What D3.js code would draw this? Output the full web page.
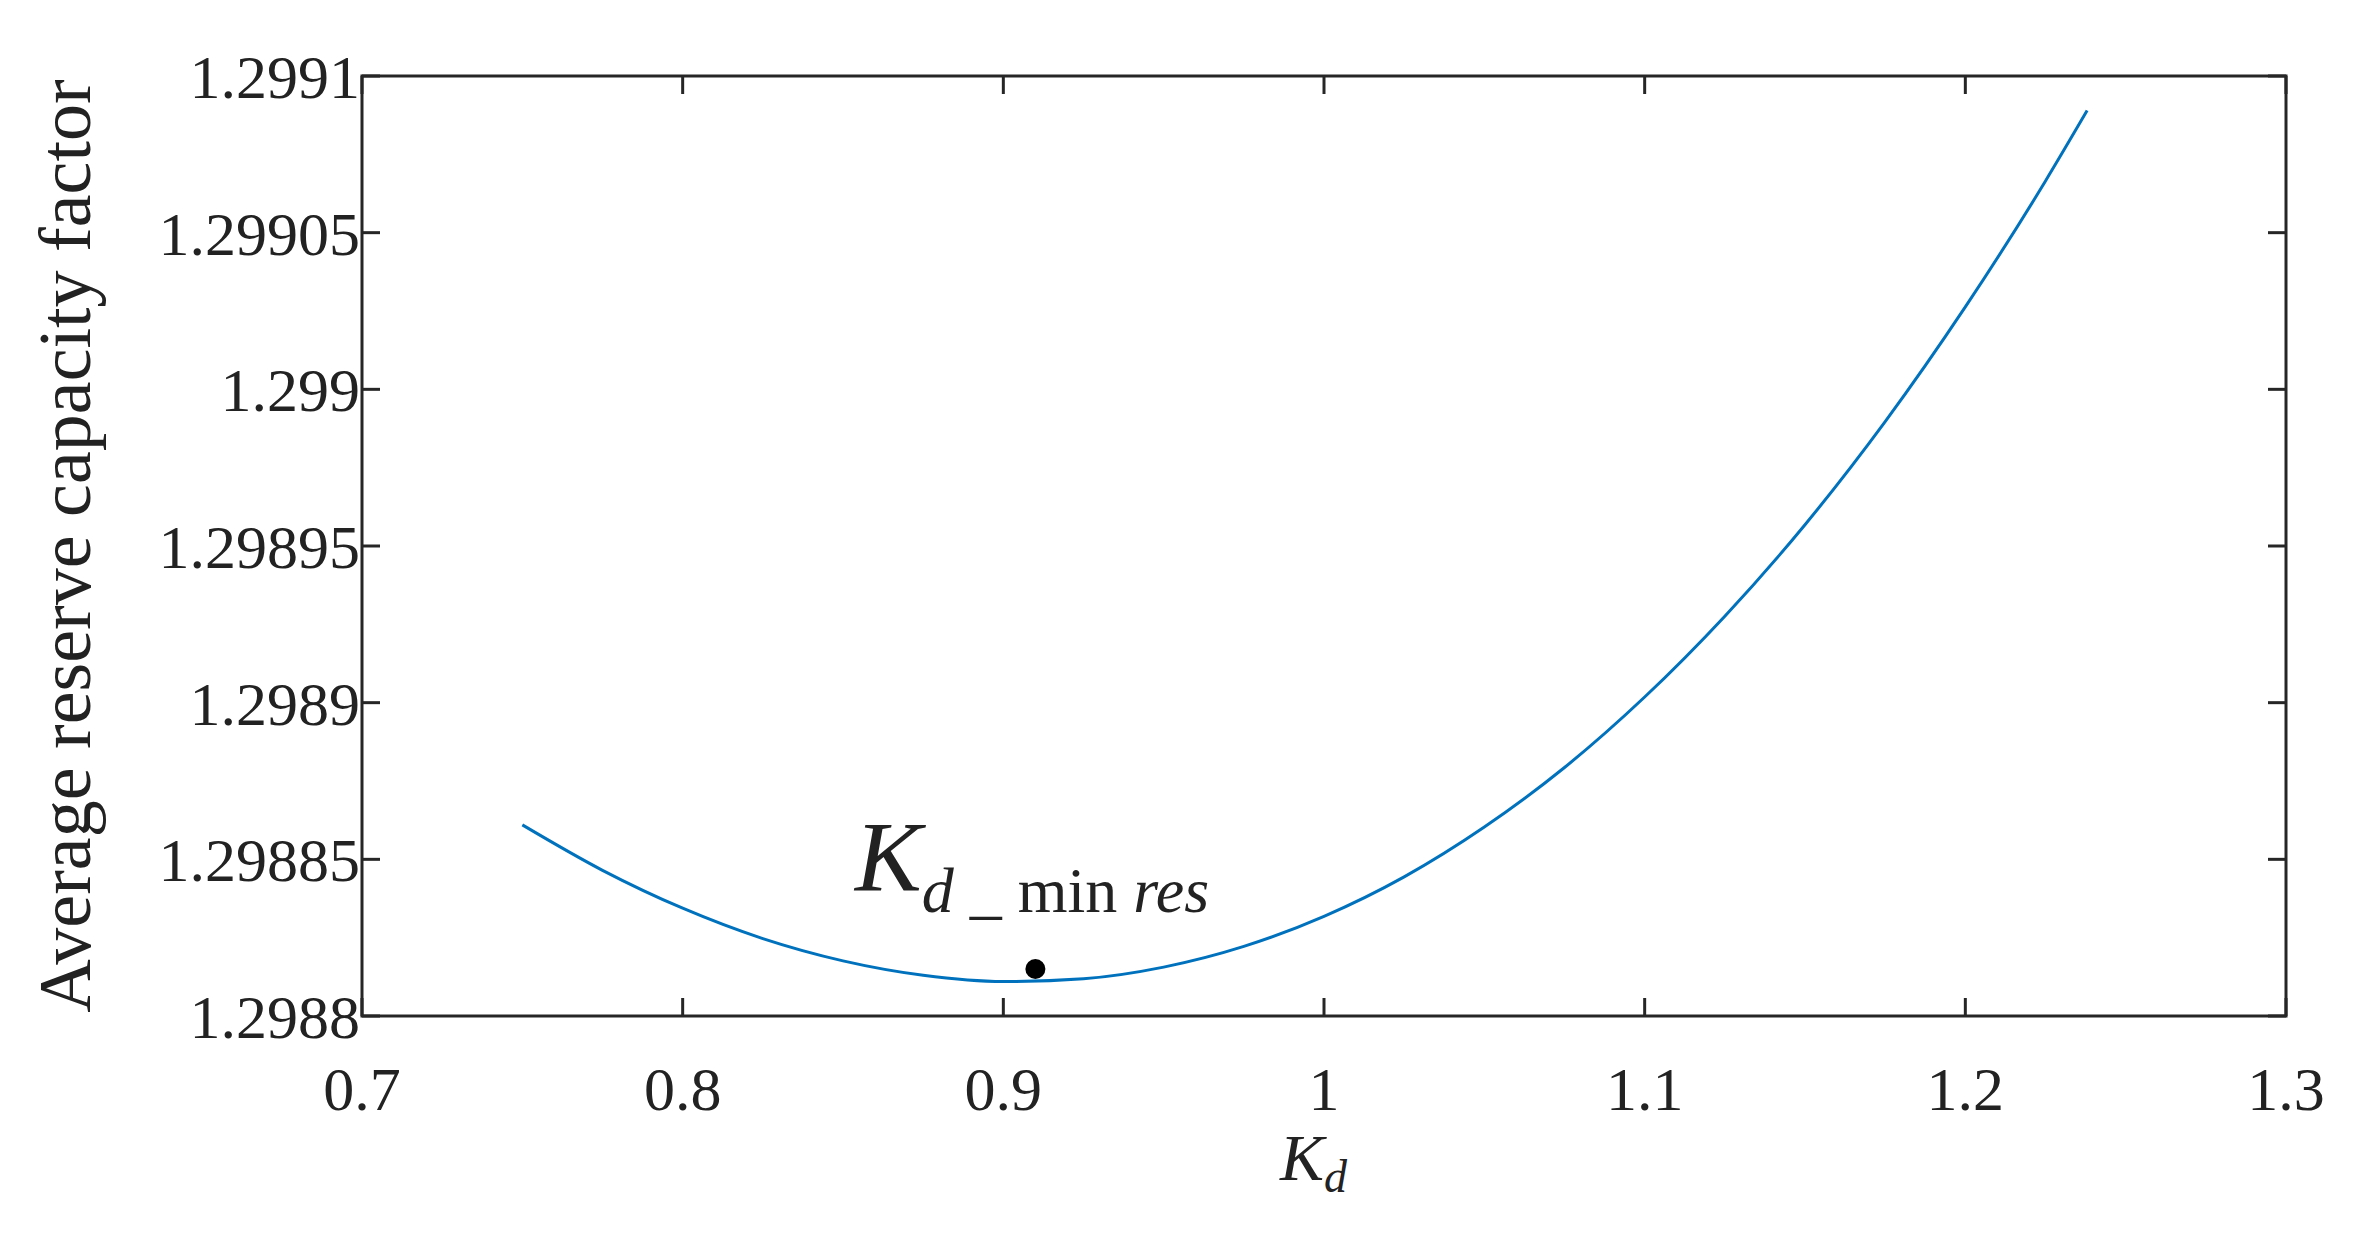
<!DOCTYPE html><html><head><meta charset="utf-8"><script src="https://cdn.jsdelivr.net/npm/d3@7"></script>
<style>body{margin:0;background:#fff}text{font-family:"Liberation Serif","Times New Roman",serif;fill:#222}</style></head><body>
<svg id="c" width="2370" height="1235"></svg>
<script>
const kd=[0.75,0.775,0.8,0.825,0.85,0.875,0.9,0.925,0.95,0.975,1.0,1.025,1.05,1.075,1.1,1.125,1.15,1.175,1.2,1.225,1.238];
const arcf=[1.298861,1.2988465,1.2988344,1.2988247,1.2988176,1.298813,1.298811,1.2988119,1.2988156,1.2988222,1.2988318,1.2988444,1.2988603,1.2988793,1.2989018,1.2989276,1.2989568,1.2989897,1.2990263,1.2990665,1.299089];
const minPoint={x:0.91,y:1.298815};
const xTicks=[0.7,0.8,0.9,1,1.1,1.2,1.3];
const yTicks=[1.2988,1.29885,1.2989,1.29895,1.299,1.29905,1.2991];
const L=362,R=2286,T=76,B=1016;
const svg=d3.select("#c");
const x=d3.scaleLinear().domain([0.7,1.3]).range([L,R]);
const y=d3.scaleLinear().domain([1.2988,1.2991]).range([B,T]);
svg.append("rect").attr("x",L).attr("y",T).attr("width",R-L).attr("height",B-T).attr("fill","none").attr("stroke","#262626").attr("stroke-width",3);
const tl=18;
xTicks.forEach(v=>{
  [[B,B-tl],[T,T+tl]].forEach(p=>svg.append("line").attr("x1",x(v)).attr("x2",x(v)).attr("y1",p[0]).attr("y2",p[1]).attr("stroke","#262626").attr("stroke-width",3));
  svg.append("text").attr("x",x(v)).attr("y",1110).attr("text-anchor","middle").attr("font-size",62).text(String(v));
});
yTicks.forEach(v=>{
  [[L,L+tl],[R,R-tl]].forEach(p=>svg.append("line").attr("x1",p[0]).attr("x2",p[1]).attr("y1",y(v)).attr("y2",y(v)).attr("stroke","#262626").attr("stroke-width",3));
  svg.append("text").attr("x",L-2).attr("y",y(v)+22).attr("text-anchor","end").attr("font-size",62).text(String(v));
});
svg.append("path").datum(kd.map((k,i)=>[k,arcf[i]])).attr("d",d3.line().x(d=>x(d[0])).y(d=>y(d[1])).curve(d3.curveMonotoneX))
  .attr("fill","none").attr("stroke","#0072BD").attr("stroke-width",3);
svg.append("circle").attr("cx",x(minPoint.x)).attr("cy",y(minPoint.y)).attr("r",10).attr("fill","#000");
svg.append("text").attr("transform",`translate(90,${(T+B)/2}) rotate(-90)`).attr("text-anchor","middle").attr("font-size",74).text("Average reserve capacity factor");
const xl=svg.append("text").attr("x",1280).attr("y",1180).attr("font-size",66).attr("font-style","italic");
xl.append("tspan").text("K");xl.append("tspan").attr("font-size",46).attr("dy",12).text("d");
const an=svg.append("text").attr("x",855).attr("y",890).attr("font-size",100).attr("fill","#000");
an.append("tspan").attr("font-style","italic").text("K");
an.append("tspan").attr("font-size",64).attr("dy",22).attr("font-style","italic").text("d");
an.append("tspan").attr("font-size",64).text(" _ min ");
an.append("tspan").attr("font-size",64).attr("font-style","italic").text("res");
</script></body></html>
